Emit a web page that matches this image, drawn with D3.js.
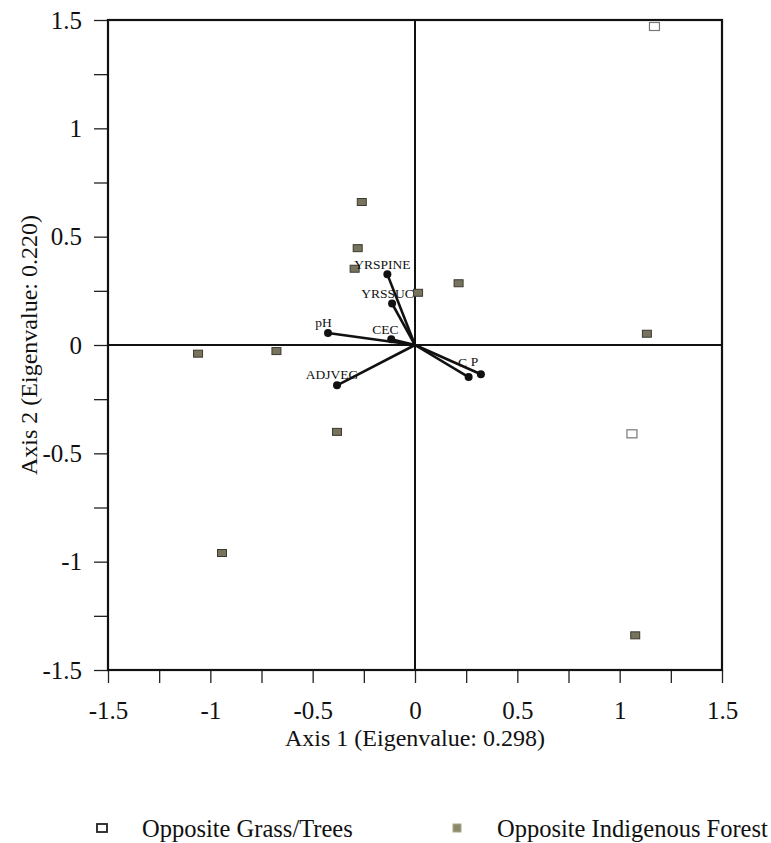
<!DOCTYPE html>
<html>
<head>
<meta charset="utf-8">
<script src="https://cdn.jsdelivr.net/npm/d3@7"></script>
<style>
  html, body { margin: 0; padding: 0; background: #fff; }
  svg { display: block; }
  text { font-family: "Liberation Serif", "Times New Roman", serif; fill: #111; }
</style>
</head>
<body>
<svg id="chart" width="771" height="843"></svg>
<script>
// Ordination scores for sites (two groups)
const grassX = [1.17, 1.06];
const grassY = [1.47, -0.41];

const forestX = [-0.26, -0.28, -0.295, 0.015, 0.213, 1.133, -1.06, -0.677, -0.381, -0.943, 1.076];
const forestY = [0.66, 0.447, 0.352, 0.241, 0.285, 0.052, -0.04, -0.028, -0.401, -0.96, -1.34];

// Environmental variable vectors (biplot arrows)
const vecNames = ["YRSPINE", "YRSSUC", "CEC", "pH", "ADJVEG", "C", "P"];
const vecX = [-0.135, -0.112, -0.116, -0.425, -0.381, 0.262, 0.322];
const vecY = [0.326, 0.191, 0.026, 0.055, -0.186, -0.148, -0.135];

// Axis ticks
const tickValues = [-1.5, -1, -0.5, 0, 0.5, 1, 1.5];
const minorTicks = d3.range(-1.5, 1.5001, 0.25);
const xTitle = "Axis 1 (Eigenvalue: 0.298)";
const yTitle = "Axis 2 (Eigenvalue: 0.220)";
const legendLabels = ["Opposite Grass/Trees", "Opposite Indigenous Forest"];

const svg = d3.select("#chart");
const pLeft = 108, pRight = 722, pTop = 20, pBottom = 670;

const x = d3.scaleLinear().domain([-1.5, 1.5]).range([pLeft, pRight]);
const y = d3.scaleLinear().domain([-1.5, 1.5]).range([pBottom, pTop]);

const fmt = d => (d === 0 ? "0" : String(d));

// Bottom axis: minor ticks every 0.25, labels every 0.5
const xAxis = svg.append("g").attr("transform", `translate(0,${pBottom})`)
  .call(d3.axisBottom(x).tickValues(minorTicks).tickSize(13).tickFormat(""));
xAxis.select(".domain").remove();
xAxis.selectAll("line").attr("stroke", "#222").attr("stroke-width", 1.3);
svg.append("g").attr("transform", `translate(0,${pBottom})`)
  .call(d3.axisBottom(x).tickValues(tickValues).tickSize(0).tickPadding(31).tickFormat(fmt))
  .call(g => g.select(".domain").remove())
  .selectAll("text").attr("font-size", 25).attr("font-family", "Liberation Serif").attr("fill", "#111");

// Left axis
const yAxis = svg.append("g").attr("transform", `translate(${pLeft},0)`)
  .call(d3.axisLeft(y).tickValues(minorTicks).tickSize(14).tickFormat(""));
yAxis.select(".domain").remove();
yAxis.selectAll("line").attr("stroke", "#222").attr("stroke-width", 1.3);
svg.append("g").attr("transform", `translate(${pLeft},0)`)
  .call(d3.axisLeft(y).tickValues(tickValues).tickSize(0).tickPadding(26).tickFormat(fmt))
  .call(g => g.select(".domain").remove())
  .selectAll("text").attr("font-size", 25).attr("font-family", "Liberation Serif").attr("fill", "#111");

// Frame and zero lines
svg.append("rect")
  .attr("x", pLeft).attr("y", pTop).attr("width", pRight - pLeft).attr("height", pBottom - pTop)
  .attr("fill", "none").attr("stroke", "#111").attr("stroke-width", 2.2);
svg.append("line").attr("x1", pLeft).attr("x2", pRight).attr("y1", y(0)).attr("y2", y(0))
  .attr("stroke", "#111").attr("stroke-width", 2);
svg.append("line").attr("x1", x(0)).attr("x2", x(0)).attr("y1", pTop).attr("y2", pBottom)
  .attr("stroke", "#111").attr("stroke-width", 2);

// Axis titles
svg.append("text").attr("x", x(0)).attr("y", 746).attr("text-anchor", "middle")
  .attr("font-size", 24).text(xTitle);
svg.append("text").attr("transform", `translate(37,${y(0)}) rotate(-90)`)
  .attr("text-anchor", "middle").attr("font-size", 24).text(yTitle);

// Site markers
const sq = 9, sqh = 7;
svg.append("g").selectAll("rect").data(forestX.map((d, i) => [d, forestY[i]])).join("rect")
  .attr("x", d => x(d[0]) - sq / 2).attr("y", d => y(d[1]) - sqh / 2)
  .attr("width", sq).attr("height", sqh)
  .attr("fill", "#77735c").attr("stroke", "#3b3a30").attr("stroke-width", 1);
svg.append("g").selectAll("rect").data(grassX.map((d, i) => [d, grassY[i]])).join("rect")
  .attr("x", d => x(d[0]) - 5).attr("y", d => y(d[1]) - 4)
  .attr("width", 10).attr("height", 8)
  .attr("fill", "#fff").attr("stroke", "#777").attr("stroke-width", 1.2);

// Biplot vectors
const vecs = vecNames.map((n, i) => ({ n, vx: vecX[i], vy: vecY[i] }));
const vg = svg.append("g");
vg.selectAll("line").data(vecs).join("line")
  .attr("x1", x(0)).attr("y1", y(0))
  .attr("x2", d => x(d.vx)).attr("y2", d => y(d.vy))
  .attr("stroke", "#111").attr("stroke-width", 2.6);
vg.selectAll("circle").data(vecs).join("circle")
  .attr("cx", d => x(d.vx)).attr("cy", d => y(d.vy)).attr("r", 4)
  .attr("fill", "#111");

// Vector labels: offsets from arrow tips
const labelOffsets = {
  YRSPINE: [-5, -5],
  YRSSUC: [-4.5, -6],
  CEC: [-6, -5],
  pH: [-4.5, -6],
  ADJVEG: [-5, -6],
  C: [-6, -10],
  P: [-6.5, -8]
};
vg.selectAll("text").data(vecs).join("text")
  .attr("x", d => x(d.vx) + labelOffsets[d.n][0])
  .attr("y", d => y(d.vy) + labelOffsets[d.n][1])
  .attr("text-anchor", "middle")
  .attr("font-size", 13.5)
  .text(d => d.n);

// Legend
const ly = 828;
svg.append("rect").attr("x", 97).attr("y", ly - 4).attr("width", 10).attr("height", 8)
  .attr("fill", "#fff").attr("stroke", "#222").attr("stroke-width", 1.8);
svg.append("text").attr("x", 142).attr("y", ly + 9).attr("font-size", 24.5).text(legendLabels[0]);
svg.append("rect").attr("x", 453).attr("y", ly - 4).attr("width", 8).attr("height", 8)
  .attr("fill", "#8a8a6a").attr("stroke", "#aaa98a").attr("stroke-width", 1);
svg.append("text").attr("x", 497).attr("y", ly + 9).attr("font-size", 24.5).text(legendLabels[1]);
</script>
</body>
</html>
